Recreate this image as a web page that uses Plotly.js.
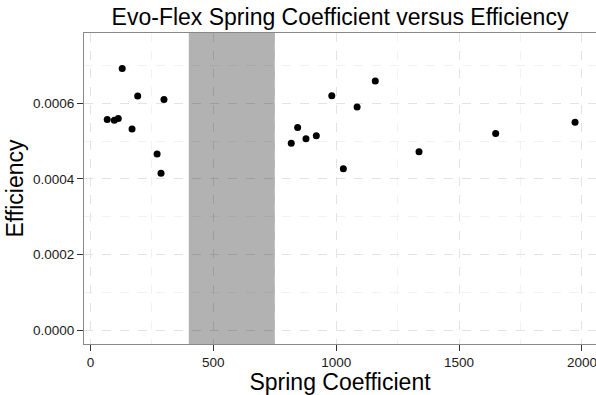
<!DOCTYPE html>
<html>
<head>
<meta charset="utf-8">
<script src="https://cdn.plot.ly/plotly-3.0.1.min.js"></script>
<style>html,body{margin:0;padding:0;background:#fff;}#chart{width:596px;height:395px;}</style>
</head>
<body>
<div id="chart"></div>
<script>
const springCoefficient = [129, 192, 299, 68, 97, 113, 169, 271, 287,
  817, 843, 877, 919, 982, 1029, 1085, 1159, 1337, 1649, 1972];
const efficiency = [0.000692, 0.000619, 0.000610, 0.000557, 0.000555, 0.000560, 0.000532, 0.000466, 0.000415,
  0.000494, 0.000536, 0.000506, 0.000514, 0.000620, 0.000427, 0.000590, 0.000659, 0.000472, 0.000520, 0.000550];
const shadeStart = 400;
const shadeEnd = 750;
const xTicks = [0, 500, 1000, 1500, 2000];
const yTicks = [0, 0.0002, 0.0004, 0.0006];
const yTickLabels = ["0.0000", "0.0002", "0.0004", "0.0006"];

const trace = {
  x: springCoefficient, y: efficiency, type: 'scatter', mode: 'markers',
  marker: {color: '#000', size: 7}, hoverinfo: 'skip'
};

const font = "Liberation Sans, Arial, Helvetica, sans-serif";
const layout = {
  width: 596, height: 395,
  margin: {l: 84, r: 0, t: 33, b: 51},
  paper_bgcolor: '#fff', plot_bgcolor: '#fff',
  showlegend: false,
  font: {family: font, color: '#000'},
  title: {text: 'Evo-Flex Spring Coefficient versus Efficiency', font: {size: 23, color: '#000'},
    x: 0.5, xref: 'paper', xanchor: 'center', y: 1, yref: 'container', yanchor: 'top', pad: {t: 9}},
  xaxis: {
    range: [-26.5, 2057.3], tickvals: xTicks, ticktext: xTicks.map(String),
    ticklabeloverflow: 'allow',
    showgrid: true, gridcolor: '#e3e3e3', griddash: 'dash', gridwidth: 1,
    minor: {dtick: 250, tick0: 250, showgrid: true, gridcolor: '#f2f2f2', gridwidth: 1, ticks: ''},
    zeroline: false, showline: true, mirror: true, linecolor: '#888', linewidth: 1,
    ticks: 'outside', ticklen: 6, tickcolor: '#333', tickwidth: 1,
    tickfont: {size: 13.5, color: '#1a1a1a'},
    title: {text: 'Spring Coefficient', font: {size: 23, color: '#000'}, standoff: 3}
  },
  yaxis: {
    range: [-0.000037, 0.000786], tickvals: yTicks, ticktext: yTickLabels,
    showgrid: true, gridcolor: '#e3e3e3', griddash: 'dash', gridwidth: 1,
    minor: {dtick: 0.0002, tick0: 0.0001, showgrid: true, gridcolor: '#f2f2f2', gridwidth: 1, ticks: ''},
    zeroline: false, showline: true, mirror: false, linecolor: '#888', linewidth: 1,
    ticks: 'outside', ticklen: 6, tickcolor: '#333', tickwidth: 1,
    tickfont: {size: 13.5, color: '#1a1a1a'},
    title: {text: 'Efficiency', font: {size: 23, color: '#000'}, standoff: 2}
  },
  shapes: [{type: 'rect', xref: 'x', yref: 'paper', x0: shadeStart, x1: shadeEnd, y0: 0, y1: 1,
    fillcolor: 'rgba(0,0,0,0.3)', line: {width: 0}, layer: 'above'}]
};

Plotly.newPlot('chart', [trace], layout, {displayModeBar: false, staticPlot: true});
</script>
</body>
</html>
